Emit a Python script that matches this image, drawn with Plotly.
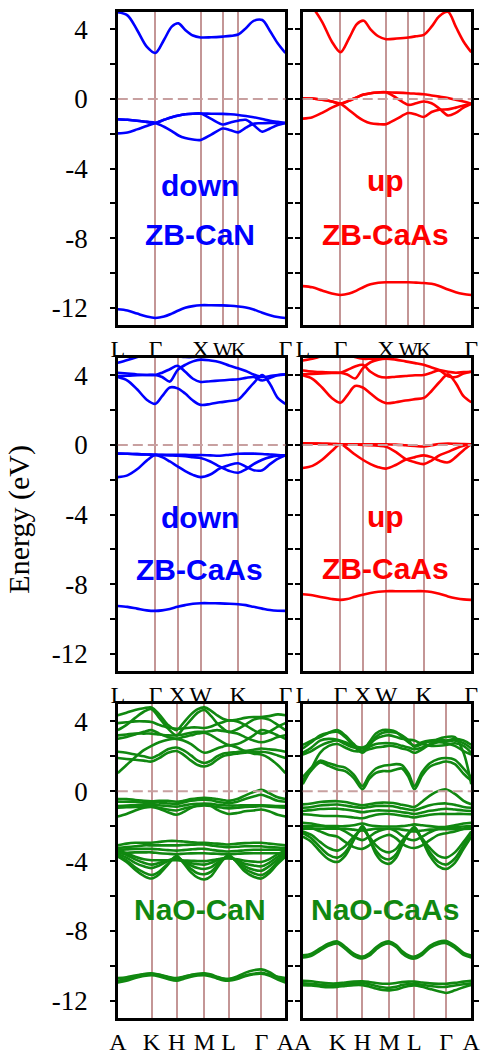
import plotly.graph_objects as go

# ---------------- data ----------------
# y axis
Y_RANGE = [-13, 5]
Y_TICKS = [4, 2, 0, -2, -4, -6, -8, -10, -12]
Y_TICKTEXT = ["4", "", "0", "", "-4", "", "-8", "", "-12"]

# Panel 1 : ZB-CaN, spin down
P1_KPTS = [0, 39, 86, 109, 125, 174]
P1_KLAB = ["L", "Γ", "X", "W", "K", "Γ"]
P1_K = [0, 10, 20, 30, 39, 48, 56, 63, 70, 78, 86, 97, 109, 117, 125, 133, 141, 150, 158, 166, 174]
P1_CB1 = [4.98, 4.8, 3.96, 3.0, 2.64, 3.4, 4.15, 4.34, 3.96, 3.64, 3.53, 3.54, 3.58, 3.62, 3.7, 4.06, 4.48, 4.53, 3.9, 3.2, 2.64]
P1_VB1 = [-1.17, -1.2, -1.25, -1.32, -1.38, -1.2, -1.05, -0.95, -0.88, -0.85, -0.84, -0.85, -0.86, -0.88, -0.92, -0.98, -1.05, -1.15, -1.25, -1.32, -1.38]
P1_VB2 = [-1.98, -1.93, -1.75, -1.55, -1.38, -1.2, -1.05, -0.95, -0.88, -0.85, -0.84, -1.15, -1.47, -1.35, -1.25, -1.2, -1.5, -1.88, -1.7, -1.5, -1.38]
P1_VB3 = [-1.17, -1.2, -1.25, -1.32, -1.38, -1.6, -1.85, -2.1, -2.25, -2.33, -2.36, -2.05, -1.7, -1.8, -1.92, -1.65, -1.42, -1.4, -1.38, -1.38, -1.38]
P1_CORE = [-12.08, -12.15, -12.33, -12.5, -12.58, -12.5, -12.33, -12.15, -12.0, -11.9, -11.85, -11.85, -11.86, -11.88, -11.92, -11.98, -12.1, -12.28, -12.42, -12.53, -12.58]

# Panel 2 : ZB-CaAs, spin up (top row)
P2_KPTS = [0, 39, 86, 109, 125, 174]
P2_KLAB = ["L", "Γ", "X", "W", "K", "Γ"]
P2_K = [0, 10, 20, 30, 39, 48, 56, 63, 70, 78, 86, 97, 109, 117, 125, 133, 141, 150, 158, 166, 174]
P2_CB1 = [5.7, 5.25, 4.43, 3.3, 2.68, 3.5, 4.3, 4.49, 4.0, 3.6, 3.43, 3.47, 3.53, 3.6, 3.68, 4.15, 4.75, 5.0, 4.15, 3.3, 2.68]
P2_VB1 = [0.04, 0.02, -0.05, -0.15, -0.28, -0.1, 0.1, 0.25, 0.33, 0.37, 0.38, 0.36, 0.33, 0.3, 0.27, 0.2, 0.13, 0.05, -0.05, -0.15, -0.28]
P2_VB2 = [-1.13, -1.05, -0.8, -0.5, -0.28, -0.1, 0.1, 0.25, 0.33, 0.37, 0.38, 0.05, -0.34, -0.25, -0.15, -0.25, -0.55, -0.95, -0.8, -0.5, -0.28]
P2_VB3 = [0.04, 0.02, -0.05, -0.15, -0.28, -0.65, -1.0, -1.25, -1.4, -1.45, -1.45, -1.15, -0.81, -0.9, -1.04, -0.75, -0.62, -0.6, -0.5, -0.38, -0.28]
P2_CORE = [-10.75, -10.82, -11.0, -11.18, -11.26, -11.18, -11.0, -10.8, -10.65, -10.56, -10.53, -10.53, -10.53, -10.55, -10.57, -10.62, -10.75, -10.95, -11.1, -11.2, -11.26]

# Panel 3 : ZB-CaAs, spin down (middle row)
P3_KPTS = [0, 39, 62, 86, 125, 174]
P3_KLAB = ["L", "Γ", "X", "W", "K", "Γ"]
P3_K = [0, 10, 20, 30, 39, 46, 54, 62, 70, 78, 86, 96, 106, 116, 125, 133, 141, 150, 158, 166, 174]
P3_CB1 = [3.9, 3.7, 3.2, 2.6, 2.36, 2.8, 3.3, 3.25, 2.95, 2.55, 2.3, 2.35, 2.45, 2.52, 2.6, 3.05, 3.55, 4.02, 3.5, 2.7, 2.36]
P3_CB2 = [4.15, 4.1, 4.05, 4.02, 4.02, 3.9, 3.64, 4.3, 4.6, 4.8, 4.9, 4.85, 4.75, 4.55, 4.4, 4.25, 4.05, 3.9, 3.95, 4.02, 4.05]
P3_CB3 = [3.96, 3.97, 4.0, 4.02, 4.02, 4.15, 4.35, 4.55, 4.2, 3.8, 3.62, 3.66, 3.7, 3.74, 3.77, 3.85, 3.9, 3.7, 3.85, 4.0, 4.05]
P3_CB4 = [4.72, 4.88, 5.05, 5.2, 5.3, 5.3, 5.25, 5.1, 5.05, 5.05, 5.1, 5.15, 5.2, 5.3, 5.35, 5.3, 5.2, 5.15, 5.2, 5.3, 5.35]
P3_VB1 = [-0.5, -0.51, -0.53, -0.55, -0.57, -0.57, -0.57, -0.57, -0.57, -0.58, -0.58, -0.6, -0.62, -0.56, -0.51, -0.5, -0.5, -0.52, -0.55, -0.58, -0.6]
P3_VB2 = [-1.85, -1.75, -1.4, -0.9, -0.57, -0.7, -0.95, -1.23, -1.5, -1.72, -1.85, -1.7, -1.35, -1.15, -1.05, -1.25, -1.45, -1.45, -1.1, -0.8, -0.6]
P3_VB3 = [-0.5, -0.51, -0.53, -0.55, -0.57, -0.58, -0.6, -0.62, -0.65, -0.7, -0.75, -0.95, -1.25, -1.5, -1.6, -1.4, -1.1, -0.85, -0.7, -0.62, -0.6]
P3_CORE = [-9.25, -9.3, -9.4, -9.5, -9.53, -9.5, -9.42, -9.3, -9.2, -9.12, -9.09, -9.09, -9.1, -9.12, -9.15, -9.2, -9.3, -9.4, -9.48, -9.52, -9.53]

# Panel 4 : ZB-CaAs, spin up (middle row)
P4_KPTS = [0, 39, 62, 86, 125, 174]
P4_KLAB = ["L", "Γ", "X", "W", "K", "Γ"]
P4_K = [0, 10, 20, 30, 39, 46, 54, 62, 70, 78, 86, 96, 106, 116, 125, 133, 141, 150, 158, 166, 174]
P4_CB1 = [4.0, 3.8, 3.3, 2.7, 2.42, 2.85, 3.38, 3.3, 2.95, 2.6, 2.4, 2.45, 2.55, 2.63, 2.7, 3.1, 3.6, 4.05, 3.55, 2.8, 2.45]
P4_CB2 = [4.28, 4.22, 4.18, 4.16, 4.15, 4.05, 3.82, 4.4, 4.75, 4.9, 4.96, 4.9, 4.8, 4.7, 4.6, 4.45, 4.3, 4.2, 4.15, 4.18, 4.2]
P4_CB3 = [4.06, 4.08, 4.1, 4.13, 4.15, 4.3, 4.5, 4.6, 4.2, 3.95, 3.87, 3.92, 3.96, 4.0, 4.02, 4.15, 4.28, 3.95, 3.9, 4.1, 4.2]
P4_CB4 = [4.85, 4.95, 5.1, 5.2, 5.3, 5.2, 5.05, 4.95, 4.95, 4.97, 5.0, 5.05, 5.1, 5.2, 5.3, 5.3, 5.25, 5.2, 5.25, 5.3, 5.3]
P4_VB1 = [0.09, 0.08, 0.07, 0.05, 0.04, 0.04, 0.04, 0.04, 0.04, 0.04, 0.04, 0.02, -0.02, -0.06, -0.09, -0.02, 0.05, 0.08, 0.06, 0.05, 0.04]
P4_VB2 = [-1.32, -1.2, -0.85, -0.35, 0.04, -0.2, -0.55, -0.85, -1.1, -1.28, -1.36, -1.15, -0.85, -0.7, -0.6, -0.7, -0.9, -1.0, -0.7, -0.3, 0.04]
P4_VB3 = [0.09, 0.08, 0.07, 0.05, 0.04, 0.03, 0.02, 0.0, -0.02, -0.05, -0.1, -0.4, -0.8, -1.0, -1.1, -0.9, -0.6, -0.4, -0.2, -0.05, 0.04]
P4_CORE = [-8.58, -8.63, -8.75, -8.85, -8.9, -8.85, -8.72, -8.6, -8.5, -8.43, -8.4, -8.4, -8.4, -8.4, -8.4, -8.45, -8.55, -8.7, -8.8, -8.87, -8.9]

# Panel 5 : NaO-CaN
P5_KPTS = [0, 35, 61, 90, 115, 149, 174]
P5_KLAB = ["A", "K", "H", "M", "L", "Γ", "A"]
P5_K = [0, 9, 18, 27, 35, 43, 52, 61, 68, 76, 83, 90, 97, 103, 109, 115, 124, 132, 141, 149, 157, 166, 174]
P5_C1 = [1.04, 1.5, 1.95, 2.35, 2.6, 2.8, 2.95, 3.0, 2.9, 2.7, 2.4, 2.2, 2.3, 2.45, 2.55, 2.64, 2.5, 2.3, 2.15, 2.1, 1.9, 1.5, 1.04]
P5_C2 = [1.9, 1.85, 1.8, 1.75, 1.7, 1.9, 2.2, 2.3, 2.1, 1.75, 1.5, 1.42, 1.55, 1.8, 2.0, 2.08, 2.15, 2.2, 2.25, 2.26, 2.2, 2.05, 1.9]
P5_C3 = [2.26, 2.2, 2.1, 2.0, 1.9, 2.1, 2.4, 2.5, 2.35, 2.05, 1.75, 1.62, 1.75, 2.0, 2.15, 2.2, 2.25, 2.3, 2.38, 2.45, 2.4, 2.35, 2.26]
P5_C4 = [3.0, 3.1, 3.25, 3.4, 3.5, 3.3, 3.1, 3.0, 3.1, 3.2, 3.3, 3.35, 3.2, 3.0, 2.8, 2.64, 2.7, 2.9, 3.2, 3.5, 3.4, 3.2, 3.0]
P5_C5 = [3.2, 3.25, 3.3, 3.3, 3.3, 3.25, 3.2, 3.2, 3.25, 3.35, 3.4, 3.4, 3.45, 3.5, 3.45, 3.4, 3.3, 3.1, 2.9, 2.8, 2.9, 3.1, 3.2]
P5_C6 = [3.9, 3.95, 4.0, 4.0, 3.96, 3.8, 3.65, 3.58, 3.6, 3.65, 3.65, 3.62, 3.7, 3.85, 3.95, 4.05, 4.0, 3.8, 3.5, 3.3, 3.4, 3.7, 3.9]
P5_C7 = [3.5, 3.8, 4.2, 4.55, 4.7, 4.2, 3.6, 3.2, 3.6, 4.1, 4.5, 4.65, 4.3, 3.9, 3.6, 3.4, 3.55, 3.8, 4.1, 4.2, 4.1, 3.8, 3.5]
P5_C8 = [4.35, 4.5, 4.65, 4.75, 4.8, 4.4, 3.8, 3.5, 3.9, 4.4, 4.7, 4.8, 4.6, 4.35, 4.15, 4.05, 4.1, 4.2, 4.25, 4.25, 4.3, 4.4, 4.35]
P5_V1 = [-0.45, -0.45, -0.5, -0.55, -0.57, -0.55, -0.55, -0.6, -0.55, -0.45, -0.4, -0.38, -0.4, -0.45, -0.5, -0.55, -0.45, -0.25, -0.05, 0.08, -0.1, -0.35, -0.45]
P5_V2 = [-0.6, -0.6, -0.62, -0.65, -0.66, -0.65, -0.7, -0.72, -0.65, -0.55, -0.5, -0.48, -0.52, -0.6, -0.65, -0.68, -0.6, -0.45, -0.3, -0.2, -0.35, -0.55, -0.6]
P5_V3 = [-0.85, -0.82, -0.8, -0.78, -0.78, -0.8, -0.85, -0.88, -0.82, -0.75, -0.72, -0.7, -0.72, -0.78, -0.8, -0.82, -0.82, -0.8, -0.8, -0.8, -0.82, -0.85, -0.85]
P5_V4 = [-0.95, -0.92, -0.9, -0.88, -0.88, -0.95, -1.05, -1.1, -1.0, -0.9, -0.85, -0.82, -0.85, -0.9, -0.95, -0.98, -0.95, -0.9, -0.88, -0.85, -0.88, -0.92, -0.95]
P5_V5 = [-1.45, -1.3, -1.1, -0.95, -0.9, -1.0, -1.2, -1.35, -1.2, -0.95, -0.8, -0.75, -0.85, -1.05, -1.2, -1.3, -1.25, -1.15, -1.1, -1.05, -1.15, -1.35, -1.45]
P5_W1 = [-3.75, -4.05, -4.5, -4.85, -5.0, -4.75, -4.2, -3.7, -4.1, -4.65, -4.95, -5.05, -4.85, -4.4, -3.95, -3.65, -4.1, -4.6, -4.9, -5.0, -4.7, -4.15, -3.75]
P5_W2 = [-3.7, -3.95, -4.35, -4.65, -4.8, -4.6, -4.15, -3.75, -4.05, -4.45, -4.7, -4.75, -4.6, -4.25, -3.9, -3.7, -4.05, -4.45, -4.7, -4.8, -4.55, -4.05, -3.7]
P5_W3 = [-3.6, -3.8, -4.1, -4.3, -4.4, -4.25, -4.0, -3.8, -4.0, -4.25, -4.4, -4.45, -4.35, -4.1, -3.9, -3.75, -4.0, -4.3, -4.5, -4.55, -4.3, -3.9, -3.6]
P5_W4 = [-3.5, -3.65, -3.9, -4.1, -4.2, -4.1, -3.95, -3.9, -4.0, -4.12, -4.18, -4.2, -4.1, -3.95, -3.85, -3.8, -3.95, -4.15, -4.25, -4.3, -4.1, -3.75, -3.5]
P5_W5 = [-3.4, -3.55, -3.75, -3.9, -3.95, -3.95, -3.95, -3.95, -3.97, -3.98, -4.0, -4.0, -3.95, -3.9, -3.85, -3.85, -3.9, -3.98, -4.03, -4.05, -3.9, -3.6, -3.4]
P5_F1 = [-3.1, -3.0, -2.95, -2.95, -2.95, -2.9, -2.85, -2.85, -2.88, -2.92, -2.95, -2.95, -2.98, -3.0, -3.03, -3.05, -3.0, -2.97, -2.95, -2.95, -3.0, -3.05, -3.1]
P5_F2 = [-3.25, -3.2, -3.15, -3.1, -3.1, -3.1, -3.1, -3.1, -3.08, -3.06, -3.05, -3.05, -3.1, -3.15, -3.18, -3.2, -3.18, -3.15, -3.15, -3.15, -3.2, -3.22, -3.25]
P5_F3 = [-3.35, -3.33, -3.3, -3.3, -3.3, -3.33, -3.37, -3.4, -3.37, -3.33, -3.3, -3.3, -3.35, -3.4, -3.43, -3.45, -3.42, -3.38, -3.35, -3.35, -3.35, -3.35, -3.35]
P5_F4 = [-3.55, -3.53, -3.5, -3.5, -3.5, -3.55, -3.58, -3.6, -3.58, -3.56, -3.55, -3.55, -3.57, -3.58, -3.6, -3.6, -3.58, -3.56, -3.55, -3.55, -3.55, -3.55, -3.55]
P5_K1 = [-10.85, -10.75, -10.6, -10.47, -10.42, -10.5, -10.65, -10.75, -10.65, -10.52, -10.45, -10.43, -10.5, -10.62, -10.72, -10.75, -10.6, -10.4, -10.25, -10.2, -10.35, -10.65, -10.85]
P5_K2 = [-10.95, -10.85, -10.7, -10.58, -10.53, -10.6, -10.75, -10.85, -10.75, -10.62, -10.55, -10.53, -10.6, -10.72, -10.82, -10.85, -10.75, -10.6, -10.48, -10.45, -10.55, -10.78, -10.95]
P5_K3 = [-10.7, -10.65, -10.55, -10.48, -10.45, -10.52, -10.62, -10.7, -10.62, -10.52, -10.48, -10.47, -10.55, -10.65, -10.72, -10.75, -10.68, -10.55, -10.45, -10.4, -10.5, -10.62, -10.7]

# Panel 6 : NaO-CaAs
P6_KPTS = [0, 36, 62, 90, 116, 149, 175]
P6_KLAB = ["A", "K", "H", "M", "L", "Γ", "A"]
P6_K = [0, 9, 18, 27, 36, 44, 53, 62, 69, 76, 83, 90, 97, 103, 110, 116, 124, 132, 141, 149, 158, 167, 175]
P6_L1 = [0.6, 1.2, 1.65, 1.45, 1.25, 1.15, 0.75, 0.12, 0.7, 1.05, 1.15, 1.15, 1.25, 1.3, 0.8, 0.12, 0.9, 1.4, 1.6, 1.7, 1.55, 1.0, 0.6]
P6_L2 = [0.8, 1.35, 1.75, 1.6, 1.45, 1.35, 0.95, 0.3, 0.9, 1.3, 1.45, 1.5, 1.55, 1.5, 1.0, 0.3, 1.1, 1.6, 1.85, 1.9, 1.8, 1.3, 0.8]
P6_U1 = [2.65, 2.9, 3.1, 3.35, 3.5, 3.2, 2.7, 2.3, 2.8, 3.3, 3.5, 3.5, 3.4, 3.1, 2.8, 2.6, 2.8, 2.9, 2.95, 2.9, 3.0, 2.9, 2.65]
P6_U2 = [2.45, 2.8, 3.2, 3.35, 3.4, 3.1, 2.6, 2.2, 2.6, 3.1, 3.35, 3.4, 3.35, 3.2, 2.9, 2.55, 2.7, 2.85, 2.9, 2.85, 2.9, 2.75, 2.45]
P6_U3 = [2.2, 2.5, 2.9, 3.0, 2.95, 2.8, 2.6, 2.5, 2.7, 3.0, 3.15, 3.2, 3.1, 3.0, 2.95, 2.9, 2.7, 2.6, 2.6, 2.65, 2.75, 2.6, 2.2]
P6_U4 = [2.1, 2.3, 2.6, 2.8, 2.9, 2.7, 2.5, 2.45, 2.55, 2.7, 2.75, 2.75, 2.7, 2.6, 2.5, 2.4, 2.5, 2.65, 2.8, 2.75, 2.6, 2.3, 2.1]
P6_U5 = [0.4, 1.3, 2.2, 2.6, 2.7, 2.5, 2.3, 2.3, 2.4, 2.5, 2.55, 2.6, 2.55, 2.45, 2.35, 2.2, 2.4, 2.7, 3.0, 3.1, 3.1, 2.2, 0.4]
P6_V1 = [-0.75, -0.7, -0.62, -0.58, -0.57, -0.62, -0.72, -0.8, -0.75, -0.68, -0.65, -0.66, -0.7, -0.78, -0.85, -0.9, -0.6, -0.25, 0.02, 0.1, -0.15, -0.55, -0.75]
P6_V2 = [-0.95, -0.9, -0.82, -0.78, -0.76, -0.82, -0.9, -0.95, -0.9, -0.85, -0.84, -0.85, -0.9, -0.98, -1.05, -1.08, -0.95, -0.8, -0.72, -0.7, -0.78, -0.9, -0.95]
P6_V3 = [-1.13, -1.08, -1.02, -1.0, -1.0, -1.05, -1.12, -1.2, -1.15, -1.1, -1.1, -1.12, -1.15, -1.2, -1.25, -1.3, -1.22, -1.12, -1.05, -1.0, -1.05, -1.1, -1.13]
P6_V4 = [-1.32, -1.35, -1.4, -1.42, -1.42, -1.45, -1.5, -1.55, -1.45, -1.35, -1.3, -1.3, -1.35, -1.4, -1.45, -1.5, -1.42, -1.35, -1.3, -1.3, -1.3, -1.3, -1.32]
P6_D1 = [-2.6, -2.9, -3.45, -3.9, -4.05, -3.7, -2.8, -2.0, -2.7, -3.6, -4.05, -4.15, -3.8, -3.1, -2.4, -2.05, -2.8, -3.7, -4.3, -4.45, -4.1, -3.3, -2.6]
P6_D2 = [-2.4, -2.7, -3.2, -3.65, -3.8, -3.5, -2.75, -2.1, -2.7, -3.4, -3.8, -3.9, -3.6, -3.0, -2.4, -2.1, -2.8, -3.5, -4.05, -4.2, -3.85, -3.1, -2.4]
P6_D3 = [-2.3, -2.5, -2.9, -3.25, -3.4, -3.15, -2.6, -2.2, -2.6, -3.1, -3.4, -3.5, -3.3, -2.85, -2.4, -2.2, -2.7, -3.25, -3.7, -3.8, -3.5, -2.9, -2.3]
P6_I1 = [-2.0, -2.1, -2.3, -2.5, -2.6, -2.9, -3.2, -3.3, -3.1, -2.8, -2.6, -2.5, -2.7, -3.0, -3.2, -3.25, -3.1, -2.8, -2.5, -2.4, -2.3, -2.15, -2.0]
P6_I2 = [-1.8, -1.85, -1.95, -2.05, -2.1, -2.3, -2.6, -2.8, -2.6, -2.35, -2.2, -2.15, -2.3, -2.55, -2.75, -2.8, -2.6, -2.35, -2.15, -2.05, -1.95, -1.85, -1.8]
P6_FL1 = [-2.0, -2.0, -2.0, -2.0, -2.0, -2.0, -1.95, -1.85, -1.95, -2.0, -2.02, -2.02, -2.02, -2.0, -1.95, -1.9, -1.95, -2.0, -2.05, -2.05, -2.05, -2.02, -2.0]
P6_FL2 = [-2.15, -2.15, -2.15, -2.15, -2.15, -2.15, -2.2, -2.25, -2.2, -2.15, -2.15, -2.15, -2.15, -2.2, -2.25, -2.3, -2.25, -2.2, -2.18, -2.18, -2.18, -2.16, -2.15]
P6_E1 = [-9.4, -9.3, -9.0, -8.72, -8.6, -8.9, -9.3, -9.47, -9.3, -8.95, -8.68, -8.6, -8.8, -9.15, -9.4, -9.47, -9.25, -8.85, -8.62, -8.58, -8.85, -9.25, -9.4]
P6_E2 = [-9.52, -9.42, -9.12, -8.84, -8.72, -9.02, -9.42, -9.58, -9.42, -9.07, -8.8, -8.72, -8.92, -9.27, -9.52, -9.58, -9.37, -8.97, -8.74, -8.7, -8.97, -9.37, -9.52]
P6_G1 = [-10.85, -10.88, -10.95, -11.0, -11.0, -10.95, -10.9, -10.88, -10.92, -10.98, -11.02, -11.02, -10.98, -10.93, -10.9, -10.9, -10.95, -11.0, -11.02, -11.02, -10.97, -10.9, -10.85]
P6_G2 = [-11.0, -11.02, -11.08, -11.12, -11.1, -11.05, -11.0, -10.98, -11.05, -11.15, -11.22, -11.25, -11.2, -11.1, -11.04, -11.02, -11.08, -11.15, -11.2, -11.2, -11.12, -11.05, -11.0]
P6_G3 = [-11.1, -11.12, -11.18, -11.22, -11.2, -11.15, -11.1, -11.1, -11.18, -11.3, -11.38, -11.4, -11.35, -11.25, -11.15, -11.12, -11.2, -11.32, -11.45, -11.55, -11.4, -11.22, -11.1]

# panel captions
P1_TEXT = ["down", "ZB-CaN"]
P2_TEXT = ["up", "ZB-CaAs"]
P3_TEXT = ["down", "ZB-CaAs"]
P4_TEXT = ["up", "ZB-CaAs"]
P5_TEXT = ["NaO-CaN"]
P6_TEXT = ["NaO-CaAs"]
Y_TITLE = "Energy (eV)"

# ---------------- style / layout constants ----------------
W, H = 487, 1055
COL_PX = [(113, 287), (305, 480)]
ROW_PX = [(12, 329), (362, 679), (712, 1030)]
BLUE, RED, GREEN = "#0000ff", "#ff0000", "rgb(16,136,16)"
VLINE = "rgb(196,150,150)"
ZLINE = "rgb(200,160,160)"
SERIF = "Liberation Serif"
SANS = "Liberation Sans"
TIGHT = {"W", "K"}          # labels crowded together in the top row
TIGHT_SIZE = 21


def tick_labels(labels, crowded):
    """Shrink the two crowded labels a little so they do not collide."""
    if not crowded:
        return labels
    return [f'<span style="font-size:{TIGHT_SIZE}px">{t}</span>' if t in TIGHT else t
            for t in labels]


panels = [
    dict(k=P1_K, bands=[P1_CB1, P1_VB1, P1_VB2, P1_VB3, P1_CORE], color=BLUE,
         kpts=P1_KPTS, klab=P1_KLAB, text=P1_TEXT, ty=[-4.96, -7.76], crowded=True),
    dict(k=P2_K, bands=[P2_CB1, P2_VB1, P2_VB2, P2_VB3, P2_CORE], color=RED,
         kpts=P2_KPTS, klab=P2_KLAB, text=P2_TEXT, ty=[-4.71, -7.76], crowded=True),
    dict(k=P3_K, bands=[P3_CB1, P3_CB2, P3_CB3, P3_CB4, P3_VB1, P3_VB2, P3_VB3, P3_CORE], color=BLUE,
         kpts=P3_KPTS, klab=P3_KLAB, text=P3_TEXT, ty=[-4.18, -7.13], crowded=False),
    dict(k=P4_K, bands=[P4_CB1, P4_CB2, P4_CB3, P4_CB4, P4_VB1, P4_VB2, P4_VB3, P4_CORE], color=RED,
         kpts=P4_KPTS, klab=P4_KLAB, text=P4_TEXT, ty=[-4.12, -7.07], crowded=False),
    dict(k=P5_K, bands=[P5_C1, P5_C2, P5_C3, P5_C4, P5_C5, P5_C6, P5_C7, P5_C8,
                        P5_V1, P5_V2, P5_V3, P5_V4, P5_V5,
                        P5_W1, P5_W2, P5_W3, P5_W4, P5_W5, P5_F1, P5_F2, P5_F3, P5_F4,
                        P5_K1, P5_K2, P5_K3], color=GREEN,
         kpts=P5_KPTS, klab=P5_KLAB, text=P5_TEXT, ty=[-6.79], crowded=False),
    dict(k=P6_K, bands=[P6_L1, P6_L2, P6_U1, P6_U2, P6_U3, P6_U4, P6_U5,
                        P6_V1, P6_V2, P6_V3, P6_V4, P6_D1, P6_D2, P6_D3, P6_I1, P6_I2,
                        P6_FL1, P6_FL2, P6_E1, P6_E2, P6_G1, P6_G2, P6_G3], color=GREEN,
         kpts=P6_KPTS, klab=P6_KLAB, text=P6_TEXT, ty=[-6.79], crowded=False),
]

fig = go.Figure()
shapes = []
annotations = []
axes = {}
for i, p in enumerate(panels):
    n = i + 1
    sfx = "" if n == 1 else str(n)
    r, c = divmod(i, 2)
    x0, x1 = COL_PX[c]
    y0, y1 = ROW_PX[r]
    for band in p["bands"]:
        fig.add_trace(go.Scatter(
            x=p["k"], y=band, mode="lines", xaxis="x" + sfx, yaxis="y" + sfx,
            line=dict(color=p["color"], width=2.6, shape="spline", smoothing=0.9),
            showlegend=False, hoverinfo="skip"))
    axes["xaxis" + sfx] = dict(
        domain=[x0 / W, x1 / W], anchor="y" + sfx, range=[p["k"][0], p["k"][-1]],
        tickmode="array", tickvals=p["kpts"],
        ticktext=tick_labels(p["klab"], p["crowded"]), tickangle=0,
        showgrid=True, gridcolor=VLINE, gridwidth=1.5, zeroline=False,
        showline=True, linecolor="black", linewidth=2.5, mirror=True, ticks="",
        tickfont=dict(family=SERIF, size=24, color="black"), fixedrange=True)
    axes["yaxis" + sfx] = dict(
        domain=[1 - y1 / H, 1 - y0 / H], anchor="x" + sfx, range=Y_RANGE,
        tickmode="array", tickvals=Y_TICKS,
        ticktext=Y_TICKTEXT if c == 0 else [""] * len(Y_TICKS),
        showgrid=False, zeroline=False, showline=True, linecolor="black",
        linewidth=2.5, mirror="ticks", ticks="outside", ticklen=5, tickwidth=1.5,
        tickcolor="black", ticklabelstandoff=17,
        tickfont=dict(family=SERIF, size=27, color="black"), fixedrange=True)
    shapes.append(dict(type="line", xref="x" + sfx + " domain", yref="y" + sfx,
                       x0=0, x1=1, y0=0, y1=0, layer="above",
                       line=dict(color=ZLINE, width=2, dash="10px,5px")))
    for txt, ty in zip(p["text"], p["ty"]):
        annotations.append(dict(
            text=txt, xref="x" + sfx + " domain", yref="y" + sfx, x=0.49, y=ty,
            xanchor="center", yanchor="middle", showarrow=False,
            font=dict(family=SANS, size=30, color=p["color"], weight="bold")))

annotations.append(dict(text=Y_TITLE, xref="paper", yref="paper", x=10 / W, y=1 - 525 / H,
                        xanchor="center", yanchor="middle", textangle=-90, showarrow=False,
                        font=dict(family=SERIF, size=30, color="black")))

fig.update_layout(**axes)
fig.update_layout(width=W, height=H, margin=dict(l=0, r=0, t=0, b=0),
                  paper_bgcolor="white", plot_bgcolor="white", showlegend=False,
                  shapes=shapes, annotations=annotations)

fig.write_html("out.html", config={"displayModeBar": False},
               post_script="document.body.style.margin='0';")
